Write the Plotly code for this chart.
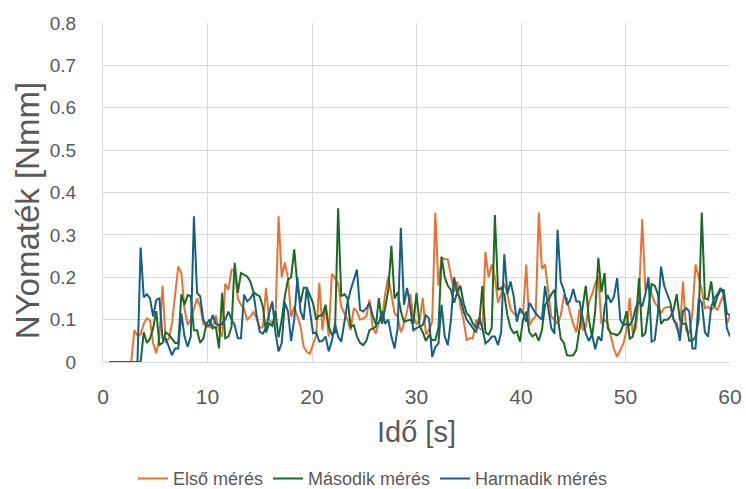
import numpy as np
import plotly.graph_objects as go

# Sample clock: one reading every 0.3 s, from 0.6 s to 60 s
T_START = 0.6
T_STEP = 0.3

# Torque readings [Nmm]
elso_meres = [
    0, 0, 0, 0, 0, 0, 0, 0,
    0.075, 0.063, 0.065, 0.09, 0.103, 0.098, 0.045, 0.02, 0.06, 0.18,
    0.045, 0.055, 0.09, 0.16, 0.225, 0.21, 0.125, 0.088, 0.1, 0.125,
    0.15, 0.13, 0.09, 0.083,
    0.083, 0.08, 0.11, 0.075, 0.06, 0.185, 0.17, 0.218, 0.215, 0.15,
    0.135, 0.125, 0.1, 0.107, 0.118, 0.103, 0.08, 0.083, 0.175, 0.1,
    0.091, 0.1, 0.344, 0.2, 0.235, 0.198, 0.107, 0.13, 0.11, 0.085,
    0.036, 0.024, 0.02,
    0.04, 0.063, 0.187, 0.075, 0.135, 0.06, 0.208, 0.198, 0.185, 0.13,
    0.115, 0.1, 0.075, 0.127, 0.119, 0.1, 0.103, 0.107, 0.147, 0.083,
    0.067, 0.095, 0.1, 0.16, 0.202, 0.159, 0.115, 0.107, 0.07, 0.09,
    0.12, 0.16, 0.107,
    0.09, 0.1, 0.151, 0.065, 0.075, 0.095, 0.352, 0.18, 0.246, 0.243,
    0.242, 0.2, 0.165, 0.19, 0.13, 0.1, 0.052, 0.056, 0.056, 0.1,
    0.08, 0.075, 0.26, 0.2, 0.23, 0.2, 0.14, 0.16, 0.185, 0.16,
    0.125, 0.115, 0.11, 0.118,
    0.115, 0.23, 0.087, 0.1, 0.107, 0.353, 0.22, 0.23, 0.17, 0.107,
    0.1, 0.09, 0.11, 0.155, 0.15, 0.115, 0.09, 0.07, 0.125, 0.075,
    0.083, 0.14, 0.16, 0.185, 0.202, 0.09, 0.1, 0.09, 0.06, 0.03,
    0.012, 0.028, 0.044,
    0.075, 0.151, 0.065, 0.08, 0.16, 0.337, 0.17, 0.18, 0.16, 0.14,
    0.13, 0.115, 0.127, 0.13, 0.13, 0.1, 0.08, 0.07, 0.19, 0.075,
    0.068, 0.115, 0.23, 0.2, 0.17, 0.127, 0.13, 0.123, 0.13, 0.123,
    0.14, 0.16, 0.09, 0.11,
]

masodik_meres = [
    0, 0, 0, 0, 0, 0, 0, 0, 0, 0, 0,
    0.07, 0.045, 0.055, 0.08, 0.12, 0.04, 0.045, 0.07, 0.065, 0.055,
    0.045, 0.045, 0.16, 0.135, 0.158, 0.155, 0.075, 0.075, 0.045, 0.055,
    0.09,
    0.1, 0.08, 0.083, 0.032, 0.163, 0.056, 0.06, 0.083, 0.234, 0.163,
    0.21, 0.205, 0.202, 0.19, 0.165, 0.159, 0.155, 0.13, 0.07, 0.091,
    0.085, 0.12, 0.058, 0.1, 0.155, 0.194, 0.2, 0.266, 0.18, 0.14,
    0.175, 0.175, 0.155,
    0.139, 0.1, 0.11, 0.11, 0.135, 0.083, 0.065, 0.07, 0.363, 0.155,
    0.16, 0.15, 0.083, 0.087, 0.06, 0.045, 0.04, 0.05, 0.075, 0.079,
    0.083, 0.151, 0.09, 0.127, 0.17, 0.274, 0.15, 0.165, 0.12, 0.095,
    0.097, 0.1, 0.09,
    0.163, 0.085, 0.07, 0.05, 0.063, 0.052, 0.052, 0.08, 0.248, 0.2,
    0.18, 0.17, 0.14, 0.165, 0.18, 0.14, 0.115, 0.107, 0.09, 0.083,
    0.09, 0.179, 0.07, 0.065, 0.08, 0.347, 0.17, 0.175, 0.16, 0.11,
    0.08, 0.068, 0.072, 0.048,
    0.1, 0.119, 0.07, 0.06, 0.067, 0.05, 0.075, 0.135, 0.145, 0.16,
    0.17, 0.11, 0.055, 0.045, 0.016, 0.015, 0.016, 0.028, 0.08, 0.13,
    0.18, 0.1, 0.06, 0.12, 0.246, 0.165, 0.21, 0.08, 0.068, 0.066,
    0.063, 0.07, 0.09,
    0.12, 0.055, 0.06, 0.1, 0.198, 0.06, 0.068, 0.13, 0.184, 0.18,
    0.16, 0.09, 0.1, 0.1, 0.107, 0.123, 0.16, 0.1, 0.09, 0.09,
    0.05, 0.05, 0.06, 0.1, 0.353, 0.15, 0.147, 0.19, 0.13, 0.155,
    0.17, 0.17, 0.115, 0.11,
]

harmadik_meres = [
    0, 0, 0, 0, 0, 0, 0, 0, 0, 0,
    0.27, 0.153, 0.16, 0.15, 0.107, 0.147, 0.15, 0.056, 0.055, 0.036,
    0.016, 0.032, 0.032, 0.115, 0.06, 0.036, 0.06, 0.344, 0.163, 0.155,
    0.1, 0.087,
    0.087, 0.111, 0.09, 0.087, 0.09, 0.1, 0.119, 0.1, 0.087, 0.056,
    0.056, 0.159, 0.143, 0.15, 0.163, 0.11, 0.071, 0.067, 0.08, 0.115,
    0.143, 0.07, 0.025, 0.044, 0.14, 0.12, 0.05, 0.1, 0.2, 0.12,
    0.1, 0.175, 0.12,
    0.068, 0.07, 0.048, 0.05, 0.06, 0.025, 0.05, 0.09, 0.06, 0.048,
    0.09, 0.14, 0.17, 0.195, 0.218, 0.123, 0.119, 0.127, 0.139, 0.11,
    0.09, 0.092, 0.12, 0.09, 0.1, 0.06, 0.032, 0.08, 0.317, 0.135,
    0.175, 0.13, 0.075,
    0.08, 0.083, 0.087, 0.11, 0.103, 0.012, 0.035, 0.044, 0.135, 0.06,
    0.04, 0.1, 0.2, 0.16, 0.15, 0.12, 0.1, 0.09, 0.08, 0.07,
    0.105, 0.08, 0.044, 0.05, 0.06, 0.06, 0.04, 0.07, 0.254, 0.16,
    0.19, 0.155, 0.095, 0.127,
    0.115, 0.095, 0.14, 0.127, 0.115, 0.107, 0.1, 0.179, 0.13, 0.08,
    0.067, 0.312, 0.19, 0.17, 0.135, 0.145, 0.172, 0.143, 0.143, 0.1,
    0.067, 0.05, 0.065, 0.03, 0.06, 0.05, 0.13, 0.158, 0.14, 0.155,
    0.198, 0.1, 0.087,
    0.09, 0.087, 0.1, 0.13, 0.143, 0.131, 0.16, 0.2, 0.048, 0.052,
    0.115, 0.225, 0.18, 0.16, 0.14, 0.1, 0.09, 0.05, 0.12, 0.127,
    0.12, 0.032, 0.032, 0.15, 0.14, 0.07, 0.06, 0.13, 0.15, 0.16,
    0.175, 0.16, 0.08, 0.06,
]

series_names = ["Első mérés", "Második mérés", "Harmadik mérés"]
series_colors = ["#E97132", "#196B24", "#156082"]
series_values = [elso_meres, masodik_meres, harmadik_meres]

x_ticks = [0, 10, 20, 30, 40, 50, 60]
y_ticks = [0, 0.1, 0.2, 0.3, 0.4, 0.5, 0.6, 0.7, 0.8]

n = len(elso_meres)
assert len(masodik_meres) == n and len(harmadik_meres) == n, (
    len(elso_meres), len(masodik_meres), len(harmadik_meres))
ido = np.round(T_START + T_STEP * np.arange(n), 2)

TEXT = "#595959"
GRID = "#D9D9D9"
FONT = "Liberation Sans, Arial, sans-serif"

fig = go.Figure()
for name, color, vals in zip(series_names, series_colors, series_values):
    fig.add_trace(go.Scatter(
        x=ido, y=vals, name=name, mode="lines",
        line=dict(color=color, width=2),
    ))

fig.update_layout(
    width=746, height=489,
    margin=dict(l=103, r=16, t=23, b=127),
    paper_bgcolor="white", plot_bgcolor="white",
    font=dict(family=FONT, color=TEXT),
    showlegend=True,
    legend=dict(
        orientation="h",
        xref="container", yref="container",
        x=0.5, xanchor="center", y=0.021, yanchor="middle",
        font=dict(size=18, color=TEXT, family=FONT),
        itemwidth=30,
        tracegroupgap=0,
    ),
)

fig.update_xaxes(
    range=[0, 60], tickvals=x_ticks, ticktext=[str(v) for v in x_ticks],
    automargin=False,
    showgrid=True, gridcolor=GRID, gridwidth=1,
    zeroline=False, showline=True, linecolor=GRID, linewidth=1,
    ticks="", ticklabelstandoff=16,
    tickfont=dict(size=21, color=TEXT, family=FONT),
    title=dict(text="Idő [s]", font=dict(size=29, color=TEXT, family=FONT),
               standoff=14),
)

fig.update_yaxes(
    range=[0, 0.8], tickvals=y_ticks, ticktext=[f"{v:g}" for v in y_ticks],
    automargin=False,
    showgrid=True, gridcolor=GRID, gridwidth=1,
    zeroline=False, showline=True, linecolor=GRID, linewidth=1,
    ticks="", ticklabelstandoff=22,
    tickfont=dict(size=19, color=TEXT, family=FONT),
)

# Vertical axis title, placed a little below the plot's mid-height
fig.add_annotation(
    text="NYomaték [Nmm]", textangle=-90, showarrow=False,
    xref="paper", yref="paper", x=-0.121, y=0.445,
    xanchor="center", yanchor="middle",
    font=dict(size=33, color=TEXT, family=FONT),
)

fig.write_html("out.html")
